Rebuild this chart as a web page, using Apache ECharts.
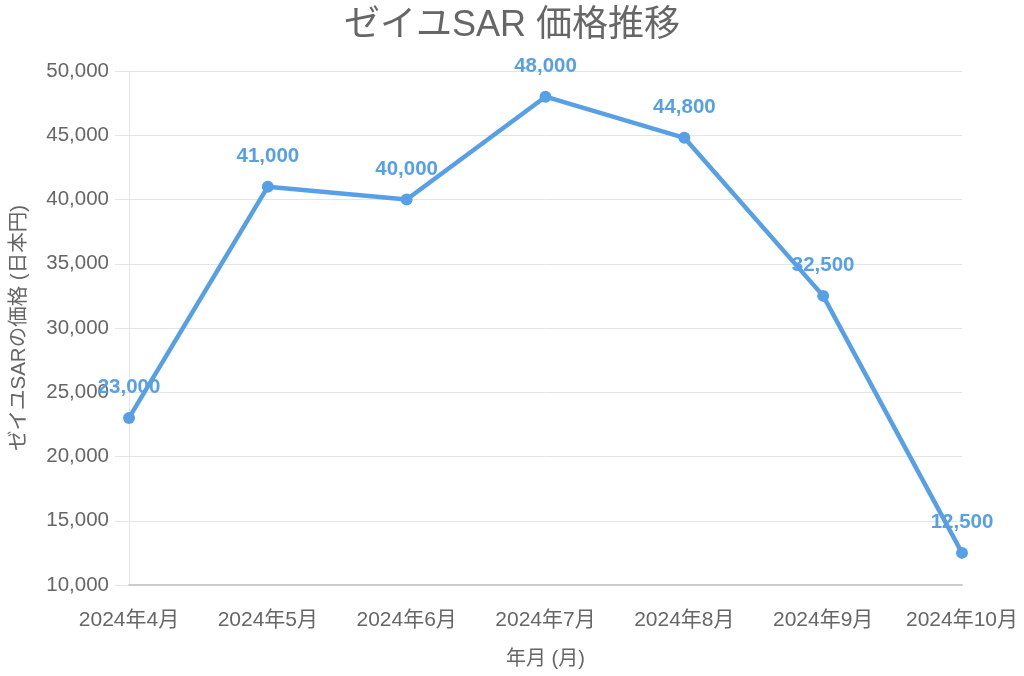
<!DOCTYPE html>
<html><head><meta charset="utf-8">
<script src="https://cdn.jsdelivr.net/npm/echarts@6/dist/echarts.min.js"></script>
<style>html,body{margin:0;padding:0;background:#fff}#c{width:1024px;height:676px}</style>
</head><body><div id="c"></div>
<script>
const categories = ['2024年4月','2024年5月','2024年6月','2024年7月','2024年8月','2024年9月','2024年10月'];
const prices = [23000, 41000, 40000, 48000, 44800, 32500, 12500];
const yTicks = [10000, 15000, 20000, 25000, 30000, 35000, 40000, 45000, 50000];
const titleText = 'ゼイユSAR 価格推移';
const yName = 'ゼイユSARの価格 (日本円)';
const xName = '年月 (月)';
const FONT = '"Liberation Sans", "Noto Sans CJK JP", sans-serif';
const chart = echarts.init(document.getElementById('c'));
chart.setOption({
  animation: false,
  textStyle: {fontFamily: FONT},
  title: {text: titleText, left: 'center', top: 3,
    textStyle: {fontSize: 36, fontWeight: 'normal', color: '#666', fontFamily: FONT}},
  grid: {left: 129, right: 62, top: 71, bottom: 91, containLabel: false, outerBoundsMode: 'none'},
  xAxis: {type: 'category', data: categories, boundaryGap: false,
    name: xName, nameLocation: 'middle', nameGap: 64,
    nameTextStyle: {fontSize: 20, color: '#666', fontFamily: FONT},
    axisLine: {lineStyle: {color: '#ccc', width: 2}},
    axisTick: {show: false},
    axisLabel: {fontSize: 21, color: '#666', margin: 25, fontFamily: FONT, interval: 0},
    splitLine: {show: false}},
  yAxis: {type: 'value', min: yTicks[0], max: yTicks[yTicks.length-1], interval: 5000,
    name: yName, nameLocation: 'middle', nameGap: 99, nameRotate: 90,
    nameTextStyle: {fontSize: 20.5, color: '#666', fontFamily: FONT},
    axisLine: {show: true, lineStyle: {color: '#e4e4e4', width: 1}},
    axisTick: {show: true, length: 14, lineStyle: {color: '#e4e4e4'}},
    axisLabel: {fontSize: 20.5, color: '#666', margin: 20, fontFamily: FONT,
      formatter: v => v.toLocaleString('en-US')},
    splitLine: {lineStyle: {color: '#e4e4e4', width: 1}}},
  series: [{type: 'line', data: prices, symbol: 'circle', symbolSize: 12,
    lineStyle: {color: '#58a0e6', width: 4.5},
    itemStyle: {color: '#58a0e6'},
    label: {show: true, position: 'top', distance: 14, fontSize: 20.5, fontWeight: 'bold',
      color: '#58a0e6', fontFamily: FONT, formatter: p => p.value.toLocaleString('en-US')}}]
});
</script></body></html>
